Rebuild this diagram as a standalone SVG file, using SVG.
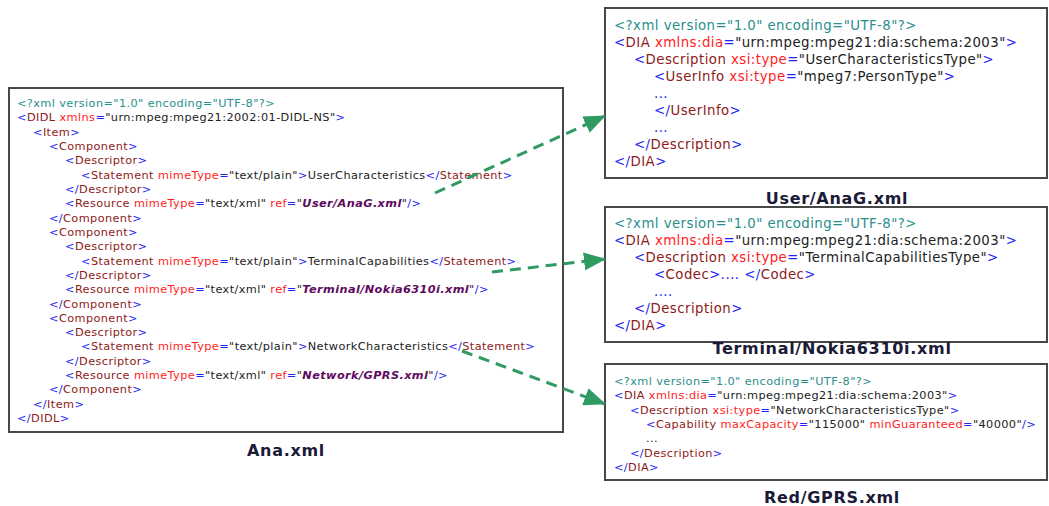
<svg xmlns="http://www.w3.org/2000/svg" width="1049" height="506" viewBox="0 0 1049 506">
  <style>
    .box { fill: #ffffff; stroke: #474747; stroke-width: 2; }
    .code { font-family: "DejaVu Sans", Verdana, sans-serif; fill: #222222; }
    .s11 { font-size: 11.3px; letter-spacing: 0.4px; }
    .s13 { font-size: 13.3px; letter-spacing: 0.45px; }
    .p { fill: #2a8f8c; }
    .b { fill: #2323f5; }
    .e { fill: #8e1a1a; }
    .a { fill: #ff1c1c; }
    .v { fill: #222222; }
    .r { fill: #5e0a5e; font-weight: bold; font-style: italic; }
    .title { font-family: "DejaVu Sans", Verdana, sans-serif; font-size: 16px; font-weight: bold; fill: #1b1b38; text-anchor: middle; letter-spacing: 0.7px; }
    .link { fill: none; stroke: #2f9a62; stroke-width: 3; stroke-dasharray: 11 7; marker-end: url(#head); }
  </style>
  <defs>
    <marker id="head" viewBox="0 0 22 18" refX="21" refY="9" markerWidth="22" markerHeight="18" markerUnits="userSpaceOnUse" orient="auto">
      <path d="M0,0 L22,9 L0,18 Z" fill="#2f9a62"/>
    </marker>
  </defs>

  <rect width="1049" height="506" fill="#ffffff"/>

  <!-- DIDL document -->
  <g id="ana">
    <rect class="box" x="9" y="88" width="554" height="344"/>
    <g class="code s11">
      <text x="17" y="107"><tspan class="p">&lt;?xml version="1.0" encoding="UTF-8"?&gt;</tspan></text>
      <text x="17" y="121.3"><tspan class="b">&lt;</tspan><tspan class="e">DIDL</tspan><tspan class="a"> xmlns</tspan><tspan class="b">=</tspan><tspan class="v">"urn:mpeg:mpeg21:2002:01-DIDL-NS"</tspan><tspan class="b">&gt;</tspan></text>
      <text x="33" y="135.6"><tspan class="b">&lt;</tspan><tspan class="e">Item</tspan><tspan class="b">&gt;</tspan></text>
      <text x="49" y="150"><tspan class="b">&lt;</tspan><tspan class="e">Component</tspan><tspan class="b">&gt;</tspan></text>
      <text x="65" y="164.3"><tspan class="b">&lt;</tspan><tspan class="e">Descriptor</tspan><tspan class="b">&gt;</tspan></text>
      <text x="81" y="178.6"><tspan class="b">&lt;</tspan><tspan class="e">Statement</tspan><tspan class="a"> mimeType</tspan><tspan class="b">=</tspan><tspan class="v">"text/plain"</tspan><tspan class="b">&gt;</tspan><tspan class="v">UserCharacteristics</tspan><tspan class="b">&lt;/</tspan><tspan class="e">Statement</tspan><tspan class="b">&gt;</tspan></text>
      <text x="65" y="192.9"><tspan class="b">&lt;/</tspan><tspan class="e">Descriptor</tspan><tspan class="b">&gt;</tspan></text>
      <text x="65" y="207.2"><tspan class="b">&lt;</tspan><tspan class="e">Resource</tspan><tspan class="a"> mimeType</tspan><tspan class="b">=</tspan><tspan class="v">"text/xml"</tspan><tspan class="a"> ref</tspan><tspan class="b">=</tspan><tspan class="v">"</tspan><tspan class="r">User/AnaG.xml</tspan><tspan class="v">"</tspan><tspan class="b">/&gt;</tspan></text>
      <text x="49" y="221.6"><tspan class="b">&lt;/</tspan><tspan class="e">Component</tspan><tspan class="b">&gt;</tspan></text>
      <text x="49" y="235.9"><tspan class="b">&lt;</tspan><tspan class="e">Component</tspan><tspan class="b">&gt;</tspan></text>
      <text x="65" y="250.2"><tspan class="b">&lt;</tspan><tspan class="e">Descriptor</tspan><tspan class="b">&gt;</tspan></text>
      <text x="81" y="264.5"><tspan class="b">&lt;</tspan><tspan class="e">Statement</tspan><tspan class="a"> mimeType</tspan><tspan class="b">=</tspan><tspan class="v">"text/plain"</tspan><tspan class="b">&gt;</tspan><tspan class="v">TerminalCapabilities</tspan><tspan class="b">&lt;/</tspan><tspan class="e">Statement</tspan><tspan class="b">&gt;</tspan></text>
      <text x="65" y="278.8"><tspan class="b">&lt;/</tspan><tspan class="e">Descriptor</tspan><tspan class="b">&gt;</tspan></text>
      <text x="65" y="293.2"><tspan class="b">&lt;</tspan><tspan class="e">Resource</tspan><tspan class="a"> mimeType</tspan><tspan class="b">=</tspan><tspan class="v">"text/xml"</tspan><tspan class="a"> ref</tspan><tspan class="b">=</tspan><tspan class="v">"</tspan><tspan class="r">Terminal/Nokia6310i.xml</tspan><tspan class="v">"</tspan><tspan class="b">/&gt;</tspan></text>
      <text x="49" y="307.5"><tspan class="b">&lt;/</tspan><tspan class="e">Component</tspan><tspan class="b">&gt;</tspan></text>
      <text x="49" y="321.8"><tspan class="b">&lt;</tspan><tspan class="e">Component</tspan><tspan class="b">&gt;</tspan></text>
      <text x="65" y="336.1"><tspan class="b">&lt;</tspan><tspan class="e">Descriptor</tspan><tspan class="b">&gt;</tspan></text>
      <text x="81" y="350.4"><tspan class="b">&lt;</tspan><tspan class="e">Statement</tspan><tspan class="a"> mimeType</tspan><tspan class="b">=</tspan><tspan class="v">"text/plain"</tspan><tspan class="b">&gt;</tspan><tspan class="v">NetworkCharacteristics</tspan><tspan class="b">&lt;/</tspan><tspan class="e">Statement</tspan><tspan class="b">&gt;</tspan></text>
      <text x="65" y="364.8"><tspan class="b">&lt;/</tspan><tspan class="e">Descriptor</tspan><tspan class="b">&gt;</tspan></text>
      <text x="65" y="379.1"><tspan class="b">&lt;</tspan><tspan class="e">Resource</tspan><tspan class="a"> mimeType</tspan><tspan class="b">=</tspan><tspan class="v">"text/xml"</tspan><tspan class="a"> ref</tspan><tspan class="b">=</tspan><tspan class="v">"</tspan><tspan class="r">Network/GPRS.xml</tspan><tspan class="v">"</tspan><tspan class="b">/&gt;</tspan></text>
      <text x="49" y="393.4"><tspan class="b">&lt;/</tspan><tspan class="e">Component</tspan><tspan class="b">&gt;</tspan></text>
      <text x="33" y="407.7"><tspan class="b">&lt;/</tspan><tspan class="e">Item</tspan><tspan class="b">&gt;</tspan></text>
      <text x="17" y="422"><tspan class="b">&lt;/</tspan><tspan class="e">DIDL</tspan><tspan class="b">&gt;</tspan></text>
    </g>
    <text class="title" x="286" y="456">Ana.xml</text>
  </g>

  <!-- user characteristics document -->
  <g id="user">
    <rect class="box" x="605" y="8" width="442" height="170"/>
    <g class="code s13">
      <text x="614" y="30"><tspan class="p">&lt;?xml version="1.0" encoding="UTF-8"?&gt;</tspan></text>
      <text x="614" y="47"><tspan class="b">&lt;</tspan><tspan class="e">DIA</tspan><tspan class="a"> xmlns:dia</tspan><tspan class="b">=</tspan><tspan class="v">"urn:mpeg:mpeg21:dia:schema:2003"</tspan><tspan class="b">&gt;</tspan></text>
      <text x="634" y="64"><tspan class="b">&lt;</tspan><tspan class="e">Description</tspan><tspan class="a"> xsi:type</tspan><tspan class="b">=</tspan><tspan class="v">"UserCharacteristicsType"</tspan><tspan class="b">&gt;</tspan></text>
      <text x="654" y="81"><tspan class="b">&lt;</tspan><tspan class="e">UserInfo</tspan><tspan class="a"> xsi:type</tspan><tspan class="b">=</tspan><tspan class="v">"mpeg7:PersonType"</tspan><tspan class="b">&gt;</tspan></text>
      <text x="654" y="98"><tspan class="b">...</tspan></text>
      <text x="654" y="115"><tspan class="b">&lt;/</tspan><tspan class="e">UserInfo</tspan><tspan class="b">&gt;</tspan></text>
      <text x="654" y="132"><tspan class="b">...</tspan></text>
      <text x="634" y="149"><tspan class="b">&lt;/</tspan><tspan class="e">Description</tspan><tspan class="b">&gt;</tspan></text>
      <text x="614" y="166"><tspan class="b">&lt;/</tspan><tspan class="e">DIA</tspan><tspan class="b">&gt;</tspan></text>
    </g>
    <text class="title" x="837" y="204">User/AnaG.xml</text>
  </g>

  <!-- terminal capabilities document -->
  <g id="terminal">
    <rect class="box" x="605" y="207" width="442" height="135"/>
    <g class="code s13">
      <text x="614" y="228"><tspan class="p">&lt;?xml version="1.0" encoding="UTF-8"?&gt;</tspan></text>
      <text x="614" y="245"><tspan class="b">&lt;</tspan><tspan class="e">DIA</tspan><tspan class="a"> xmlns:dia</tspan><tspan class="b">=</tspan><tspan class="v">"urn:mpeg:mpeg21:dia:schema:2003"</tspan><tspan class="b">&gt;</tspan></text>
      <text x="634" y="262"><tspan class="b">&lt;</tspan><tspan class="e">Description</tspan><tspan class="a"> xsi:type</tspan><tspan class="b">=</tspan><tspan class="v">"TerminalCapabilitiesType"</tspan><tspan class="b">&gt;</tspan></text>
      <text x="654" y="279"><tspan class="b">&lt;</tspan><tspan class="e">Codec</tspan><tspan class="b">&gt;.... &lt;/</tspan><tspan class="e">Codec</tspan><tspan class="b">&gt;</tspan></text>
      <text x="654" y="296"><tspan class="b">....</tspan></text>
      <text x="634" y="313"><tspan class="b">&lt;/</tspan><tspan class="e">Description</tspan><tspan class="b">&gt;</tspan></text>
      <text x="614" y="330"><tspan class="b">&lt;/</tspan><tspan class="e">DIA</tspan><tspan class="b">&gt;</tspan></text>
    </g>
    <text class="title" x="832" y="354">Terminal/Nokia6310i.xml</text>
  </g>

  <!-- network characteristics document -->
  <g id="network">
    <rect class="box" x="605" y="364" width="442" height="116"/>
    <g class="code s11">
      <text x="614" y="385"><tspan class="p">&lt;?xml version="1.0" encoding="UTF-8"?&gt;</tspan></text>
      <text x="614" y="399.3"><tspan class="b">&lt;</tspan><tspan class="e">DIA</tspan><tspan class="a"> xmlns:dia</tspan><tspan class="b">=</tspan><tspan class="v">"urn:mpeg:mpeg21:dia:schema:2003"</tspan><tspan class="b">&gt;</tspan></text>
      <text x="630" y="413.6"><tspan class="b">&lt;</tspan><tspan class="e">Description</tspan><tspan class="a"> xsi:type</tspan><tspan class="b">=</tspan><tspan class="v">"NetworkCharacteristicsType"</tspan><tspan class="b">&gt;</tspan></text>
      <text x="646" y="427.9"><tspan class="b">&lt;</tspan><tspan class="e">Capability</tspan><tspan class="a"> maxCapacity</tspan><tspan class="b">=</tspan><tspan class="v">"115000"</tspan><tspan class="a"> minGuaranteed</tspan><tspan class="b">=</tspan><tspan class="v">"40000"</tspan><tspan class="b">/&gt;</tspan></text>
      <text x="646" y="442.2"><tspan class="v">...</tspan></text>
      <text x="630" y="456.5"><tspan class="b">&lt;/</tspan><tspan class="e">Description</tspan><tspan class="b">&gt;</tspan></text>
      <text x="614" y="470.8"><tspan class="b">&lt;/</tspan><tspan class="e">DIA</tspan><tspan class="b">&gt;</tspan></text>
    </g>
    <text class="title" x="832" y="503">Red/GPRS.xml</text>
  </g>

  <!-- reference links -->
  <g id="connectors">
    <path class="link" d="M435,193 L605,116"/>
    <path class="link" d="M492,272 L605,259"/>
    <path class="link" d="M462,351 L605,404"/>
  </g>
</svg>
